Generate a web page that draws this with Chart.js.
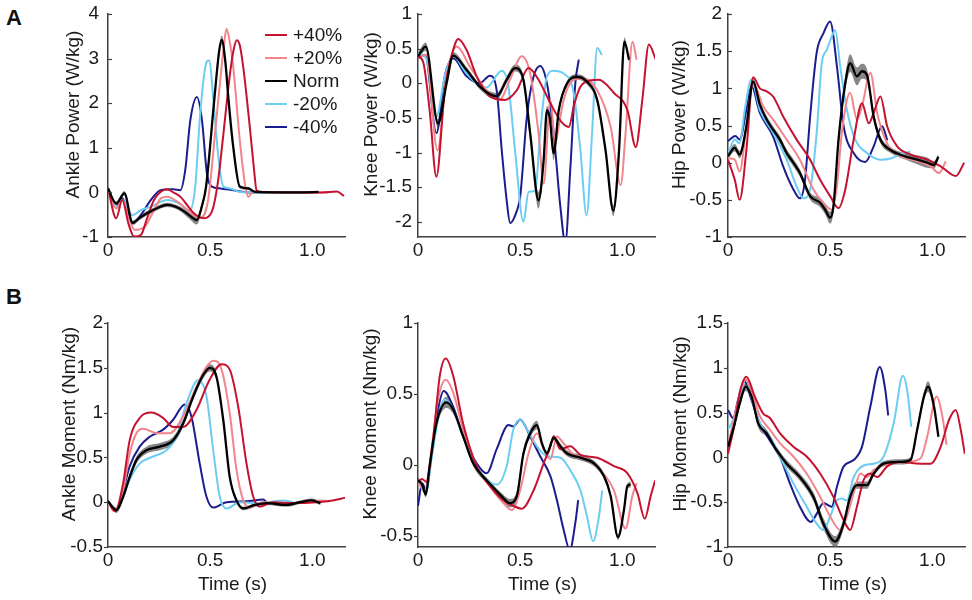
<!DOCTYPE html>
<html>
<head>
<meta charset="utf-8">
<script src="https://cdn.jsdelivr.net/npm/chart.js@4.4.1/dist/chart.umd.min.js"></script>
<style>
  body { margin: 0; background: #fff; width: 972px; height: 600px; position: relative; overflow: hidden;
         font-family: "Liberation Sans", Arial, sans-serif; }
  canvas { position: absolute; }
  .tag { position: absolute; font-weight: bold; font-size: 22px; line-height: 22px; color: #111; }
</style>
</head>
<body>
<div class="tag" style="left:6px;top:7px">A</div>
<div class="tag" style="left:6px;top:286px">B</div>

<script>
// ---- series + ticks ----
const seriesNames = ['+40%', '+20%', 'Norm', '-20%', '-40%'];
const timeTicks = [0, 0.5, 1.0];
const timeTickLabels = ['0', '0.5', '1.0'];

// Ankle power (W/kg): [time, value]; Norm rows are [time, mean, sd]
const apTicks = [-1, 0, 1, 2, 3, 4];
const apP40 = [[0,0.09],[0.04,-0.58],[0.07,-0.17],[0.1,-0.7],[0.128,-0.99],[0.16,-0.96],[0.19,-0.6],[0.225,-0.17],[0.26,0.02],[0.29,0.07],[0.32,0.0],[0.355,-0.1],[0.39,-0.3],[0.42,-0.47],[0.468,-0.58],[0.5,-0.5],[0.516,-0.32],[0.54,0.3],[0.565,1.32],[0.597,2.66],[0.615,3.2],[0.63,3.41],[0.645,3.3],[0.662,2.81],[0.694,1.47],[0.715,0.5],[0.727,0.05],[0.76,0.01],[0.9,0.0],[1.05,0.0],[1.12,0.02],[1.155,-0.08]];
const apP20 = [[0,0.05],[0.04,-0.36],[0.07,-0.17],[0.1,-0.55],[0.13,-0.84],[0.18,-0.77],[0.22,-0.45],[0.26,-0.13],[0.29,-0.1],[0.33,-0.18],[0.37,-0.32],[0.41,-0.48],[0.45,-0.58],[0.49,-0.17],[0.53,1.62],[0.565,3.19],[0.58,3.67],[0.595,3.4],[0.613,2.81],[0.645,1.17],[0.67,0.2],[0.686,-0.1],[0.71,0.02],[0.8,0.0],[0.95,0.0],[1.08,0.0]];
const apNorm = [[0,0.09,0.05],[0.04,-0.25,0.05],[0.08,-0.02,0.05],[0.12,-0.68,0.05],[0.16,-0.55,0.05],[0.22,-0.4,0.05],[0.29,-0.28,0.05],[0.35,-0.36,0.05],[0.4,-0.52,0.08],[0.435,-0.62,0.1],[0.46,-0.3,0.08],[0.48,0.13,0.06],[0.52,2.07,0.08],[0.545,3.2,0.1],[0.557,3.42,0.1],[0.575,2.9,0.08],[0.59,2.07,0.06],[0.613,1.02,0.05],[0.645,0.13,0.04],[0.686,0.09,0.03],[0.72,0.01,0.02],[0.85,0,0.02],[0.95,0,0.02],[1.03,0.01,0.02]];
const apM20 = [[0,0.05],[0.047,-0.32],[0.07,-0.17],[0.12,-0.51],[0.16,-0.4],[0.21,-0.32],[0.29,-0.17],[0.35,-0.25],[0.4,-0.4],[0.427,0.13],[0.45,1.69],[0.476,2.81],[0.495,2.96],[0.516,2.07],[0.54,0.8],[0.565,0.13],[0.597,0.09],[0.645,0.01],[0.75,0],[0.89,0]];
const apM40 = [[0,0.05],[0.047,-0.3],[0.07,-0.13],[0.12,-0.69],[0.16,-0.51],[0.21,-0.17],[0.257,0.05],[0.32,0.07],[0.354,0.05],[0.378,0.5],[0.403,1.62],[0.435,2.14],[0.46,1.62],[0.484,0.43],[0.508,0.13],[0.55,0.09],[0.62,0.04],[0.7,0.0],[0.78,0.0]];

// Knee power (W/kg)
const kpTicks = [-2, -1.5, -1, -0.5, 0, 0.5, 1];
const kpP40 = [[0,0.39],[0.025,0.31],[0.057,-0.39],[0.09,-1.35],[0.131,-0.1],[0.164,0.39],[0.197,0.64],[0.238,0.48],[0.287,0.1],[0.352,-0.19],[0.426,-0.24],[0.484,-0.1],[0.541,0.22],[0.59,0.05],[0.648,-0.29],[0.7,-0.55],[0.738,-0.63],[0.765,-0.3],[0.795,-0.05],[0.84,0.04],[0.885,0.05],[0.959,-0.14],[1.025,-0.39],[1.066,-0.92],[1.098,-0.24],[1.13,0.56],[1.164,0.34]];
const kpP20 = [[0,0.36],[0.04,0.41],[0.095,-0.97],[0.14,0.1],[0.19,0.53],[0.254,0.24],[0.336,-0.1],[0.4,-0.24],[0.45,0.05],[0.508,0.39],[0.549,0.14],[0.59,-0.72],[0.615,-1.45],[0.648,-0.24],[0.672,-0.87],[0.69,-0.6],[0.713,-0.24],[0.762,0.05],[0.811,0.07],[0.877,-0.1],[0.943,-0.63],[0.992,-1.47],[1.016,-0.72],[1.05,0.6],[1.07,0.34]];
const kpNorm = [[0,0.39,0.05],[0.038,0.53,0.06],[0.098,-0.58,0.06],[0.14,0,0.05],[0.172,0.4,0.05],[0.238,0.19,0.04],[0.303,-0.05,0.04],[0.385,-0.19,0.05],[0.434,0.05,0.05],[0.475,0.22,0.05],[0.516,0.05,0.06],[0.549,-0.72,0.08],[0.59,-1.69,0.12],[0.615,-1.11,0.08],[0.631,-0.39,0.06],[0.645,-0.5,0.06],[0.664,-1.01,0.1],[0.689,-0.39,0.05],[0.73,0,0.04],[0.779,0.09,0.04],[0.828,0.02,0.04],[0.877,-0.24,0.05],[0.918,-0.97,0.06],[0.956,-1.84,0.08],[0.984,-0.97,0.06],[1.01,0.6,0.06],[1.033,0.34,0.05]];
const kpM20 = [[0,0.43],[0.04,0.36],[0.09,-0.48],[0.131,0.1],[0.172,0.39],[0.238,0.14],[0.303,-0.04],[0.336,-0.06],[0.41,0.18],[0.443,-0.05],[0.475,-0.97],[0.516,-2.0],[0.541,-1.57],[0.574,-1.55],[0.598,-0.72],[0.631,0.1],[0.664,0.18],[0.713,0.14],[0.762,-0.14],[0.795,-0.97],[0.825,-1.91],[0.852,-0.72],[0.877,0.51],[0.9,0.41]];
const kpM40 = [[0,0.36],[0.035,0.41],[0.09,-0.72],[0.131,0.1],[0.172,0.36],[0.238,0.1],[0.303,0],[0.352,0.11],[0.385,-0.1],[0.41,-0.97],[0.434,-1.69],[0.451,-2.02],[0.484,-1.84],[0.5,-1.64],[0.533,-0.48],[0.566,0.1],[0.598,0.25],[0.631,0],[0.664,-0.72],[0.697,-1.79],[0.721,-2.3],[0.746,-1.21],[0.77,0],[0.787,0.34]];

// Hip power (W/kg)
const hpTicks = [-1, -0.5, 0, 0.5, 1, 1.5, 2];
const hpP40 = [[0,0.04],[0.033,-0.23],[0.057,-0.5],[0.09,0.17],[0.123,1.15],[0.156,1.0],[0.189,0.96],[0.221,0.89],[0.27,0.62],[0.336,0.31],[0.402,0.04],[0.451,-0.23],[0.5,-0.45],[0.541,-0.61],[0.574,-0.36],[0.615,0.31],[0.656,0.8],[0.689,0.53],[0.713,0.67],[0.746,0.89],[0.779,0.49],[0.828,0.22],[0.893,0.11],[0.975,0.04],[1.041,-0.05],[1.115,-0.18],[1.156,0]];
const hpP20 = [[0,0.06],[0.033,0.04],[0.057,-0.12],[0.09,0.49],[0.123,1.07],[0.172,0.76],[0.221,0.58],[0.287,0.31],[0.352,0.04],[0.418,-0.36],[0.467,-0.54],[0.508,-0.63],[0.533,-0.32],[0.557,0.4],[0.598,0.94],[0.631,0.58],[0.656,0.76],[0.697,1.21],[0.73,0.67],[0.779,0.26],[0.844,0.09],[0.926,0.02],[0.992,-0.05],[1.033,-0.14],[1.066,0.02]];
const hpNorm = [[0,0.09,0.04],[0.033,0.2,0.05],[0.057,0.11,0.05],[0.09,0.49,0.05],[0.123,1.09,0.05],[0.156,0.78,0.05],[0.189,0.58,0.05],[0.221,0.44,0.05],[0.254,0.31,0.05],[0.287,0.13,0.05],[0.32,0,0.05],[0.352,-0.14,0.05],[0.402,-0.45,0.05],[0.451,-0.54,0.06],[0.475,-0.63,0.06],[0.5,-0.74,0.08],[0.516,-0.59,0.08],[0.541,0.31,0.08],[0.574,1.07,0.1],[0.598,1.34,0.12],[0.631,1.16,0.12],[0.656,1.23,0.1],[0.68,1.18,0.08],[0.713,0.62,0.06],[0.746,0.31,0.05],[0.795,0.17,0.04],[0.861,0.09,0.04],[0.926,0.04,0.06],[0.975,0,0.07],[1.008,-0.03,0.05],[1.03,0.08,0.04]];
const hpM20 = [[0,0.11],[0.033,0.31],[0.057,0.26],[0.082,0.71],[0.115,1.12],[0.156,0.71],[0.221,0.4],[0.287,0.04],[0.336,-0.32],[0.369,-0.48],[0.402,-0.36],[0.434,0.4],[0.459,1.34],[0.484,1.52],[0.508,1.7],[0.525,1.78],[0.549,1.3],[0.582,0.71],[0.623,0.31],[0.68,0.13],[0.746,0.04],[0.8,0.06],[0.844,0.11],[0.893,0.15]];
const hpM40 = [[0,0.29],[0.036,0.36],[0.057,0.31],[0.09,0.71],[0.115,1.03],[0.156,0.67],[0.221,0.35],[0.27,-0.05],[0.32,-0.36],[0.352,-0.48],[0.377,-0.23],[0.402,0.62],[0.434,1.48],[0.467,1.74],[0.5,1.9],[0.533,1.3],[0.566,0.49],[0.615,0.13],[0.672,0.01],[0.713,0.22],[0.754,0.49],[0.78,0.3]];

// Ankle moment (Nm/kg)
const amTicks = [-0.5, 0, 0.5, 1, 1.5, 2];
const amP40 = [[0,0.01],[0.035,-0.1],[0.074,0.21],[0.106,0.69],[0.155,0.94],[0.212,1.0],[0.27,0.94],[0.319,0.84],[0.368,0.84],[0.433,1.03],[0.498,1.37],[0.556,1.54],[0.596,1.48],[0.637,1.07],[0.678,0.43],[0.711,0.06],[0.743,-0.05],[0.809,0],[0.907,-0.01],[1.021,0],[1.1,0.02],[1.16,0.05]];
const amP20 = [[0,0.01],[0.03,-0.1],[0.074,0.13],[0.106,0.54],[0.139,0.77],[0.172,0.82],[0.237,0.77],[0.302,0.77],[0.368,0.96],[0.433,1.29],[0.482,1.51],[0.515,1.58],[0.556,1.48],[0.596,0.99],[0.629,0.36],[0.662,0.02],[0.694,-0.06],[0.76,0],[0.858,-0.01],[0.972,0],[1.04,0.02],[1.087,0.01]];
const amNorm = [[0,0.01,0.02],[0.041,-0.09,0.03],[0.074,0.06,0.04],[0.106,0.28,0.04],[0.139,0.47,0.04],[0.188,0.58,0.04],[0.253,0.62,0.04],[0.319,0.69,0.04],[0.368,0.88,0.04],[0.417,1.18,0.04],[0.466,1.42,0.04],[0.498,1.5,0.04],[0.531,1.4,0.04],[0.564,0.92,0.03],[0.596,0.28,0.03],[0.629,0.02,0.02],[0.662,-0.07,0.02],[0.72,-0.03,0.02],[0.776,-0.01,0.02],[0.874,-0.03,0.02],[0.94,0,0.02],[0.997,0.02,0.02],[1.04,-0.01,0.02]];
const amM20 = [[0,0.01],[0.04,-0.09],[0.074,0.06],[0.106,0.25],[0.155,0.43],[0.221,0.51],[0.286,0.58],[0.335,0.73],[0.384,1.1],[0.441,1.36],[0.482,1.18],[0.515,0.58],[0.547,0.06],[0.58,-0.07],[0.645,0],[0.743,-0.01],[0.858,0.02],[0.907,0]];
const amM40 = [[0,0.01],[0.04,-0.09],[0.074,0.13],[0.106,0.4],[0.155,0.62],[0.204,0.73],[0.27,0.81],[0.319,0.92],[0.376,1.09],[0.408,0.96],[0.449,0.43],[0.482,0.06],[0.515,-0.06],[0.58,0],[0.678,0.01],[0.76,0.03],[0.776,0]];

// Knee moment (Nm/kg)
const kmTicks = [-0.5, 0, 0.5, 1];
const kmP40 = [[0,-0.12],[0.02,-0.1],[0.04,-0.12],[0.074,0.18],[0.107,0.63],[0.136,0.75],[0.172,0.63],[0.221,0.29],[0.287,-0.01],[0.352,-0.15],[0.418,-0.25],[0.467,-0.29],[0.508,-0.31],[0.566,-0.18],[0.615,0.01],[0.648,0.13],[0.664,0.2],[0.697,0.11],[0.746,0.13],[0.795,0.07],[0.877,0.05],[0.959,-0.01],[1.025,-0.06],[1.074,-0.2],[1.11,-0.38],[1.139,-0.22],[1.161,-0.11]];
const kmP20 = [[0,-0.12],[0.033,-0.18],[0.066,0.11],[0.098,0.46],[0.136,0.6],[0.172,0.51],[0.221,0.25],[0.287,-0.01],[0.352,-0.15],[0.418,-0.27],[0.459,-0.32],[0.5,-0.18],[0.541,0.08],[0.582,0.22],[0.615,0.11],[0.648,0.04],[0.68,0.2],[0.713,0.15],[0.762,0.07],[0.828,0.04],[0.893,-0.04],[0.959,-0.18],[1.016,-0.45],[1.049,-0.22],[1.07,-0.13]];
const kmNorm = [[0,-0.11,0.02],[0.02,-0.14,0.02],[0.038,-0.21,0.02],[0.057,-0.01,0.02],[0.09,0.29,0.03],[0.139,0.44,0.04],[0.172,0.39,0.03],[0.221,0.2,0.02],[0.27,0.01,0.02],[0.336,-0.11,0.02],[0.402,-0.21,0.02],[0.451,-0.27,0.03],[0.484,-0.22,0.03],[0.516,0.08,0.03],[0.549,0.22,0.03],[0.582,0.28,0.03],[0.607,0.15,0.02],[0.631,0.08,0.02],[0.664,0.19,0.02],[0.697,0.13,0.02],[0.73,0.08,0.02],[0.795,0.05,0.02],[0.861,0.01,0.02],[0.91,-0.08,0.02],[0.943,-0.22,0.02],[0.979,-0.51,0.02],[1.008,-0.32,0.02],[1.025,-0.15,0.02],[1.041,-0.14,0.02]];
const kmM20 = [[0,-0.12],[0.038,-0.2],[0.066,0.04],[0.098,0.32],[0.131,0.46],[0.172,0.39],[0.221,0.2],[0.287,-0.01],[0.385,-0.14],[0.434,-0.01],[0.467,0.25],[0.503,0.32],[0.533,0.25],[0.582,0.13],[0.631,0.06],[0.697,0.05],[0.746,-0.04],[0.795,-0.18],[0.828,-0.37],[0.857,-0.54],[0.885,-0.37],[0.902,-0.18]];
const kmM40 = [[0,-0.29],[0.02,-0.13],[0.04,-0.18],[0.066,0.06],[0.098,0.39],[0.126,0.52],[0.172,0.41],[0.221,0.2],[0.287,0.01],[0.336,-0.06],[0.385,0.11],[0.443,0.28],[0.467,0.27],[0.5,0.32],[0.549,0.2],[0.598,0.06],[0.648,-0.08],[0.68,-0.25],[0.713,-0.46],[0.743,-0.6],[0.77,-0.41],[0.784,-0.25]];

// Hip moment (Nm/kg)
const hmTicks = [-1, -0.5, 0, 0.5, 1, 1.5];
const hmP40 = [[0,0.04],[0.033,0.38],[0.057,0.72],[0.09,0.9],[0.131,0.68],[0.172,0.49],[0.205,0.44],[0.254,0.27],[0.32,0.12],[0.385,0.01],[0.451,-0.18],[0.516,-0.44],[0.566,-0.7],[0.598,-0.81],[0.631,-0.55],[0.664,-0.25],[0.697,-0.18],[0.73,-0.22],[0.779,-0.1],[0.844,-0.05],[0.943,-0.07],[0.992,-0.07],[1.041,0.12],[1.082,0.42],[1.115,0.53],[1.139,0.31],[1.159,0.04]];
const hmP20 = [[0,0.14],[0.033,0.46],[0.061,0.75],[0.087,0.87],[0.123,0.68],[0.156,0.46],[0.205,0.31],[0.254,0.16],[0.32,0.01],[0.385,-0.18],[0.451,-0.44],[0.5,-0.66],[0.549,-0.81],[0.582,-0.66],[0.615,-0.4],[0.648,-0.18],[0.68,-0.22],[0.713,-0.14],[0.779,-0.07],[0.877,-0.05],[0.943,-0.01],[0.975,0.23],[1.021,0.68],[1.049,0.46],[1.07,0.14]];
const hmNorm = [[0,0.12,0.04],[0.033,0.38,0.04],[0.057,0.6,0.05],[0.087,0.79,0.05],[0.115,0.68,0.05],[0.148,0.38,0.05],[0.189,0.27,0.04],[0.238,0.08,0.04],[0.287,-0.07,0.04],[0.352,-0.22,0.04],[0.418,-0.44,0.05],[0.467,-0.74,0.06],[0.525,-0.94,0.06],[0.566,-0.74,0.06],[0.598,-0.44,0.05],[0.631,-0.31,0.04],[0.68,-0.31,0.04],[0.713,-0.18,0.03],[0.762,-0.07,0.03],[0.844,-0.05,0.03],[0.893,-0.03,0.03],[0.926,0.31,0.04],[0.959,0.68,0.05],[0.979,0.79,0.06],[1.008,0.57,0.05],[1.03,0.23,0.04]];
const hmM20 = [[0,0.31],[0.033,0.46],[0.057,0.68],[0.087,0.87],[0.123,0.6],[0.156,0.38],[0.205,0.23],[0.254,0.01],[0.32,-0.29],[0.385,-0.55],[0.434,-0.74],[0.467,-0.81],[0.5,-0.66],[0.533,-0.48],[0.557,-0.46],[0.582,-0.48],[0.615,-0.22],[0.664,-0.09],[0.713,-0.07],[0.762,0.01],[0.811,0.38],[0.856,0.91],[0.877,0.75],[0.897,0.34]];
const hmM40 = [[0,0.53],[0.025,0.44],[0.049,0.64],[0.082,0.85],[0.115,0.64],[0.156,0.38],[0.205,0.19],[0.254,0.01],[0.303,-0.29],[0.352,-0.55],[0.405,-0.72],[0.434,-0.63],[0.467,-0.51],[0.508,-0.55],[0.533,-0.33],[0.566,-0.1],[0.615,-0.03],[0.656,0.12],[0.697,0.57],[0.743,1.01],[0.77,0.75],[0.784,0.47]];

// ---- styling / layout ----
const seriesColors = { '+40%': '#c4122f', '+20%': '#f3848b', 'Norm': '#000000', '-20%': '#6ccdf2', '-40%': '#1c1c8e' };
const FONT = '"Liberation Sans", Arial, Helvetica, sans-serif';
const TEXT = '#1a1a1a';
const AXIS = '#404040';
const X_MAX = 1.16;
const Y_AXIS_W = 100;
const PAD_TOP = 12;

const panels = [
  { left: 8,   top: 2,   xAxisH: 40, yTitle: 'Ankle Power (W/kg)', yOff: 34, labelPad: 9, tickDir: 'in',  min: -1,    max: 4,   ticks: apTicks, lines: [apP40, apP20, apNorm, apM20, apM40], legend: true },
  { left: 318, top: 2,   xAxisH: 40, yTitle: 'Knee Power (W/kg)',  yOff: 46, labelPad: 6, tickDir: 'in',  min: -2.22, max: 1,   ticks: kpTicks, lines: [kpP40, kpP20, kpNorm, kpM20, kpM40] },
  { left: 628, top: 2,   xAxisH: 40, yTitle: 'Hip Power (W/kg)',   yOff: 48, labelPad: 6, tickDir: 'in',  min: -1,    max: 2,   ticks: hpTicks, lines: [hpP40, hpP20, hpNorm, hpM20, hpM40] },
  { left: 8,   top: 311, xAxisH: 52, yTitle: 'Ankle Moment (Nm/kg)', yOff: 38, labelPad: 5, tickDir: 'out', min: -0.5, max: 2,  ticks: amTicks, lines: [amP40, amP20, amNorm, amM20, amM40], xTitle: 'Time (s)' },
  { left: 318, top: 311, xAxisH: 52, yTitle: 'Knee Moment (Nm/kg)',  yOff: 47, labelPad: 5, tickDir: 'out', min: -0.58, max: 1, ticks: kmTicks, lines: [kmP40, kmP20, kmNorm, kmM20, kmM40], xTitle: 'Time (s)' },
  { left: 628, top: 311, xAxisH: 52, yTitle: 'Hip Moment (Nm/kg)',   yOff: 47, labelPad: 5, tickDir: 'out', min: -1,   max: 1.5, ticks: hmTicks, lines: [hmP40, hmP20, hmNorm, hmM20, hmM40], xTitle: 'Time (s)' },
];

// axis titles and short y ticks, MATLAB style
const axisDecor = {
  id: 'axisDecor',
  afterDraw(chart, args, opts) {
    const { ctx, chartArea: a } = chart;
    const ys = chart.scales.y;
    ctx.save();
    ctx.strokeStyle = AXIS;
    ctx.lineWidth = 1.2;
    ys.ticks.forEach(t => {
      const y = Math.round(ys.getPixelForValue(t.value)) + 0.5;
      ctx.beginPath();
      if (opts.tickDir === 'in') { ctx.moveTo(a.left, y); ctx.lineTo(a.left + 4, y); }
      else { ctx.moveTo(a.left - 4, y); ctx.lineTo(a.left, y); }
      ctx.stroke();
    });
    ctx.font = '19px ' + FONT;
    ctx.fillStyle = TEXT;
    ctx.textAlign = 'center';
    ctx.textBaseline = 'middle';
    if (opts.xTitle) ctx.fillText(opts.xTitle, (a.left + a.right) / 2 + 6, a.bottom + 38);
    ctx.translate(a.left - opts.yOff, (a.top + a.bottom) / 2 - 11);
    ctx.rotate(-Math.PI / 2);
    ctx.fillText(opts.yTitle, 0, 0);
    ctx.restore();
  }
};

// legend in the first panel only
const lineLegend = {
  id: 'lineLegend',
  afterDraw(chart, args, opts) {
    if (!opts.show) return;
    const { ctx, chartArea: a } = chart;
    ctx.save();
    ctx.font = '19px ' + FONT;
    ctx.textBaseline = 'middle';
    ctx.textAlign = 'left';
    seriesNames.forEach((name, i) => {
      const y = a.top + 21 + i * 23;
      ctx.strokeStyle = seriesColors[name];
      ctx.lineWidth = 2;
      ctx.beginPath();
      ctx.moveTo(a.left + 157, y);
      ctx.lineTo(a.left + 179, y);
      ctx.stroke();
      ctx.fillStyle = TEXT;
      ctx.fillText(name, a.left + 185, y + 1);
    });
    ctx.restore();
  }
};

const toXY = rows => rows.map(r => ({ x: r[0], y: r[1] }));

panels.forEach((p, k) => {
  const canvas = document.createElement('canvas');
  canvas.width = 343;
  canvas.height = PAD_TOP + (k < 3 ? 223 : 224) + p.xAxisH;
  canvas.style.left = p.left + 'px';
  canvas.style.top = p.top + 'px';
  document.body.appendChild(canvas);

  const byName = {};
  seriesNames.forEach((n, i) => { byName[n] = p.lines[i]; });
  const norm = byName['Norm'];

  // Norm on top, then the others, band at the back
  const drawOrder = ['Norm', '+40%', '+20%', '-20%', '-40%'];
  const datasets = drawOrder.map(n => ({
    label: n,
    data: toXY(byName[n]),
    borderColor: seriesColors[n],
    borderWidth: n === 'Norm' ? 2.3 : 2,
    fill: false
  }));
  datasets.push({
    data: norm.map(r => ({ x: r[0], y: r[1] + r[2] })),
    borderWidth: 0, borderColor: 'rgba(0,0,0,0)',
    backgroundColor: 'rgba(95,95,95,0.75)',
    fill: '+1'
  });
  datasets.push({
    data: norm.map(r => ({ x: r[0], y: r[1] - r[2] })),
    borderWidth: 0, borderColor: 'rgba(0,0,0,0)',
    fill: false
  });

  new Chart(canvas.getContext('2d'), {
    type: 'line',
    data: { datasets },
    plugins: [axisDecor, lineLegend],
    options: {
      responsive: false,
      animation: false,
      events: [],
      layout: { padding: { top: PAD_TOP, right: 6, left: 0, bottom: 0 } },
      elements: {
        point: { radius: 0 },
        line: { cubicInterpolationMode: 'monotone' }
      },
      plugins: {
        legend: { display: false },
        tooltip: { enabled: false },
        axisDecor: { yTitle: p.yTitle, yOff: p.yOff, xTitle: p.xTitle, tickDir: p.tickDir },
        lineLegend: { show: !!p.legend }
      },
      scales: {
        x: {
          type: 'linear', min: 0, max: X_MAX,
          afterBuildTicks: s => { s.ticks = timeTicks.map(v => ({ value: v })); },
          afterFit: s => { s.height = p.xAxisH; },
          ticks: { callback: (v, i) => timeTickLabels[i], font: { family: FONT, size: 19 }, color: TEXT,
                   padding: 2, maxRotation: 0, autoSkip: false },
          grid: { display: true, drawOnChartArea: false, drawTicks: false },
          border: { color: AXIS, width: 1.5 }
        },
        y: {
          type: 'linear', min: p.min, max: p.max,
          afterBuildTicks: s => { s.ticks = p.ticks.map(v => ({ value: v })); },
          afterFit: s => { s.width = Y_AXIS_W; s.paddingTop = 0; s.paddingBottom = 0; },
          ticks: { callback: v => String(v), font: { family: FONT, size: 19 }, color: TEXT, padding: p.labelPad },
          grid: { display: true, drawOnChartArea: false, drawTicks: false },
          border: { color: AXIS, width: 1.5 }
        }
      }
    }
  });
});
</script>
</body>
</html>
